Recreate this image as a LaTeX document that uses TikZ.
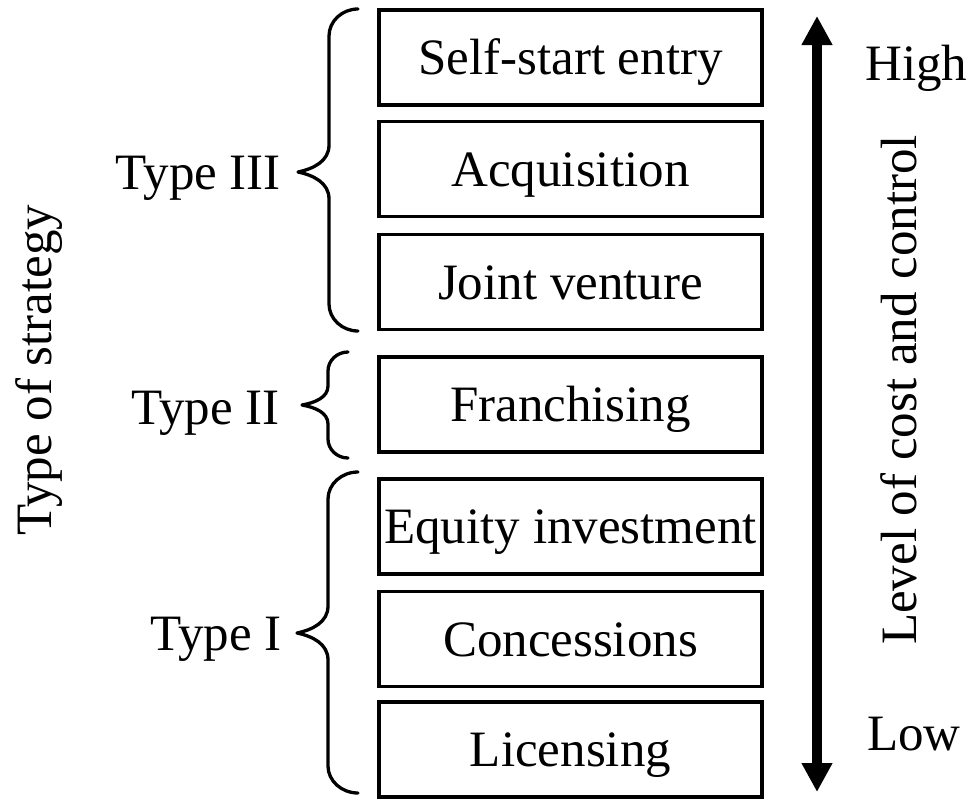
\documentclass[tikz,border=0pt]{standalone}
\usepackage{fontspec}
\setmainfont{Liberation Serif}
\usetikzlibrary{arrows.meta}

% curly brace: end x, stem x, tip x, top y, middle y, bottom y, curl radius
\newcommand\strategybrace[7]{%
  \draw[bracepath] (#1,#4)
    .. controls ({#2+0.45*(#1-#2)},#4) and (#2,{#4+0.45*#7}) .. (#2,{#4+#7})
    -- (#2,{#5-#7})
    .. controls (#2,{#5-0.4*#7}) and ({#3+0.5*(#2-#3)},{#5-0.12*#7}) .. (#3,#5)
    .. controls ({#3+0.5*(#2-#3)},{#5+0.12*#7}) and (#2,{#5+0.4*#7}) .. (#2,{#5+#7})
    -- (#2,{#6-#7})
    .. controls (#2,{#6-0.45*#7}) and ({#2+0.45*(#1-#2)},#6) .. (#1,#6);}

\begin{document}
\begin{tikzpicture}[x=1pt,y=-1pt,
  every node/.style={font=\fontsize{51}{60}\selectfont, inner sep=0pt,
    text height=34pt, text depth=0pt},
  entrybox/.style={draw, line width=3.6pt, minimum width=383pt, minimum height=95pt},
  bracepath/.style={line width=3.3pt, line cap=round, line join=round},
  scalearrow/.style={line width=10pt,
    {Triangle[width=29pt,length=29pt]}-{Triangle[width=29pt,length=29pt]}}]
\useasboundingbox (0,0) rectangle (969,798);

% entry modes, from highest to lowest cost and control
\node[entrybox] (self) at (570.5,57.5) {Self-start entry};
\node[entrybox] (acq)  at (570.5,169)  {Acquisition};
\node[entrybox] (jv)   at (570.5,282)  {Joint venture};
\node[entrybox] (fran) at (570.5,404.5) {Franchising};
\node[entrybox] (eq)   at (570.5,526.5) {Equity investment};
\node[entrybox] (conc) at (570.5,639)  {Concessions};
\node[entrybox] (lic)  at (570.5,749.5) {Licensing};

% strategy groups
\strategybrace{358}{329}{298}{9}{172}{331}{27}
\strategybrace{348}{328}{302}{352}{405}{458}{19}
\strategybrace{358}{328}{297}{472}{633}{793}{27}
\node[anchor=east] (t3) at (281,172) {Type III};
\node[anchor=east] (t2) at (280,407) {Type II};
\node[anchor=east] (t1) at (282,633) {Type I};
\node[rotate=90] (strat) at (34,370) {Type of strategy};

% cost and control scale
\coordinate (hi) at (817,16);
\coordinate (lo) at (817,792);
\draw[scalearrow] (hi) -- (lo);
\node[anchor=west] (high) at (865,63.5) {High};
\node[anchor=west] (low)  at (867,733)  {Low};
\node[rotate=90] (level) at (899.5,390) {Level of cost and control};
\end{tikzpicture}
\end{document}
